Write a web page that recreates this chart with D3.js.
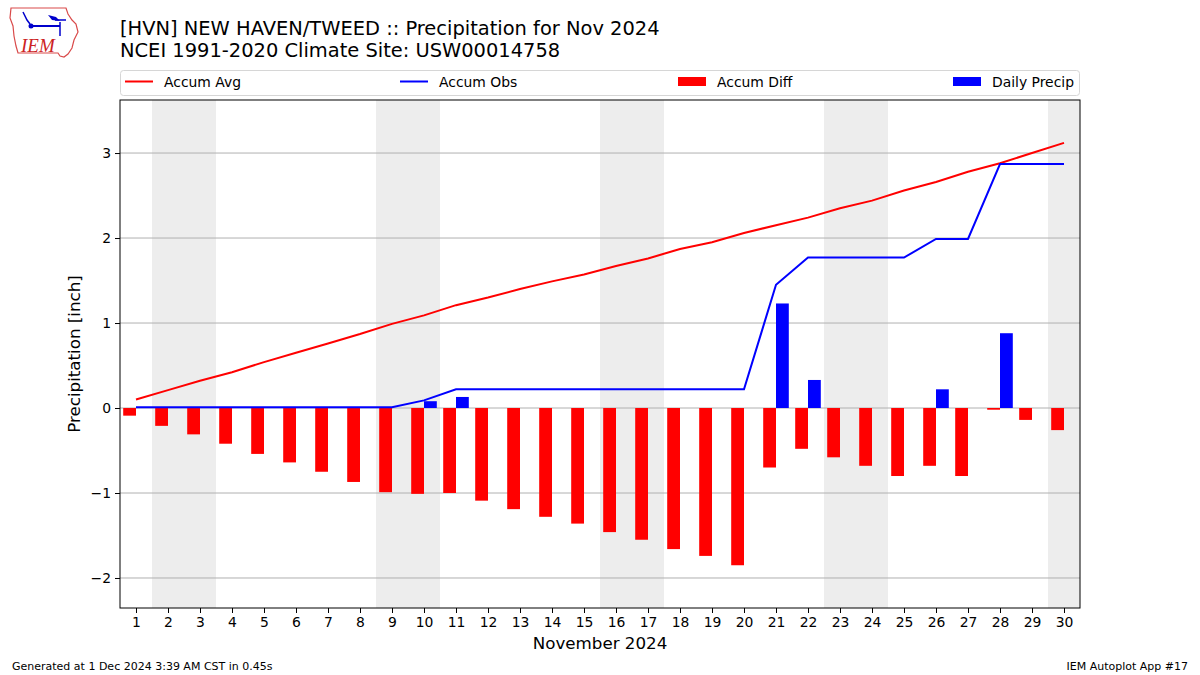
<!DOCTYPE html>
<html><head><meta charset="utf-8">
<script src="https://cdn.jsdelivr.net/npm/d3@7"></script>
<style>body{margin:0;background:#fff;}svg{display:block;font-family:"DejaVu Sans",sans-serif;}</style>
</head><body><svg id="c" width="1200" height="675"></svg>
<script>
const days = d3.range(1, 31);
const accumAvg = [0.10,0.21,0.32,0.42,0.54,0.65,0.76,0.87,0.99,1.09,1.21,1.30,1.40,1.49,1.57,1.67,1.76,1.87,1.95,2.06,2.15,2.24,2.35,2.44,2.56,2.66,2.78,2.88,3.00,3.12];
const accumObs = [0.01,0.01,0.01,0.01,0.01,0.01,0.01,0.01,0.01,0.09,0.22,0.22,0.22,0.22,0.22,0.22,0.22,0.22,0.22,0.22,1.45,1.77,1.77,1.77,1.77,1.99,1.99,2.87,2.87,2.87];
const accumDiff = [-0.09,-0.21,-0.31,-0.42,-0.54,-0.64,-0.75,-0.87,-0.99,-1.01,-1.00,-1.09,-1.19,-1.28,-1.36,-1.46,-1.55,-1.66,-1.74,-1.85,-0.70,-0.48,-0.58,-0.68,-0.80,-0.68,-0.80,-0.02,-0.14,-0.26];
const dailyPrecip = [0,0,0,0,0,0,0,0,0,0.08,0.13,0,0,0,0,0,0,0,0,0,1.23,0.33,0,0,0,0.22,0,0.88,0,0];
const weekendStarts = [2, 9, 16, 23, 30];
const weekendEnds = [3, 10, 17, 24, 30];
const yTicks = [-2, -1, 0, 1, 2, 3];
const legendItems = [
  {label:"Accum Avg", type:"line", color:"red"},
  {label:"Accum Obs", type:"line", color:"blue"},
  {label:"Accum Diff", type:"bar", color:"red"},
  {label:"Daily Precip", type:"bar", color:"blue"}
];

const svg = d3.select("#c");
const L = 120, R = 1080, T = 100, B = 608;
const x = d3.scaleLinear().domain([0.5, 30.5]).range([L, R]);
const y = d3.scaleLinear().domain([-2.353, 3.624]).range([B, T]);
const bw = x(0.4) - x(0);

// weekend shading
const g = svg.append("g");
weekendStarts.forEach((s, i) => {
  const e = weekendEnds[i];
  const x0 = x(s - 0.5), x1 = Math.min(x(e + 0.5), R);
  g.append("rect").attr("x", x0).attr("y", T).attr("width", x1 - x0).attr("height", B - T).attr("fill", "#ededed");
});

// grid
svg.append("g").selectAll("line").data(yTicks).join("line")
  .attr("x1", L).attr("x2", R).attr("y1", d => y(d)).attr("y2", d => y(d))
  .attr("stroke", "#b0b0b0").attr("stroke-width", 1);

// bars
svg.append("g").selectAll("rect").data(days).join("rect")
  .attr("x", d => x(d) - bw).attr("width", bw)
  .attr("y", (d, i) => y(Math.max(0, accumDiff[i])))
  .attr("height", (d, i) => Math.abs(y(accumDiff[i]) - y(0)))
  .attr("fill", "red");
svg.append("g").selectAll("rect").data(days.filter((d, i) => dailyPrecip[i] > 0)).join("rect")
  .attr("x", d => x(d)).attr("width", bw)
  .attr("y", d => y(dailyPrecip[d - 1]))
  .attr("height", d => y(0) - y(dailyPrecip[d - 1]))
  .attr("fill", "blue");

// lines
const line = arr => d3.line().x((d) => x(d)).y((d, i) => y(arr[i]))(days);
svg.append("path").attr("d", line(accumAvg)).attr("fill", "none").attr("stroke", "red").attr("stroke-width", 2);
svg.append("path").attr("d", line(accumObs)).attr("fill", "none").attr("stroke", "blue").attr("stroke-width", 2);

// axes
const yAxis = d3.axisLeft(y).tickValues(yTicks).tickSize(5).tickPadding(4).tickFormat(d => d < 0 ? "\u2212" + Math.abs(d) : d);
const xAxis = d3.axisBottom(x).tickValues(days).tickSize(5).tickPadding(4);
const ya = svg.append("g").attr("transform", `translate(${L},0)`).call(yAxis);
const xa = svg.append("g").attr("transform", `translate(0,${B})`).call(xAxis);
[ya, xa].forEach(a => {
  a.select(".domain").remove();
  a.selectAll("text").attr("font-size", 13.9).attr("font-family", "DejaVu Sans").attr("fill", "#000");
  a.selectAll("line").attr("stroke", "#000");
});
svg.append("rect").attr("x", L).attr("y", T).attr("width", R - L).attr("height", B - T)
  .attr("fill", "none").attr("stroke", "#000").attr("stroke-width", 1);

// labels
svg.append("text").attr("x", (L + R) / 2).attr("y", 649).attr("text-anchor", "middle").attr("font-size", 16.7).text("November 2024");
svg.append("text").attr("transform", `translate(80,${(T + B) / 2}) rotate(-90)`).attr("text-anchor", "middle").attr("font-size", 16.7).text("Precipitation [inch]");

// title
svg.append("text").attr("x", 120).attr("y", 35).attr("font-size", 19.45).text("[HVN] NEW HAVEN/TWEED :: Precipitation for Nov 2024");
svg.append("text").attr("x", 120).attr("y", 57).attr("font-size", 19.45).text("NCEI 1991-2020 Climate Site: USW00014758");

// legend
const lg = svg.append("g");
lg.append("rect").attr("x", 120.5).attr("y", 70.5).attr("width", 959).attr("height", 25).attr("rx", 3)
  .attr("fill", "#fff").attr("stroke", "#d6d6d6");
const lgX = [125, 400, 678, 953];
legendItems.forEach((it, i) => {
  const lx = lgX[i];
  if (it.type === "line") {
    lg.append("line").attr("x1", lx).attr("x2", lx + 28).attr("y1", 81.5).attr("y2", 81.5).attr("stroke", it.color).attr("stroke-width", 2);
  } else {
    lg.append("rect").attr("x", lx).attr("y", 77).attr("width", 28).attr("height", 9).attr("fill", it.color);
  }
  lg.append("text").attr("x", lx + 39).attr("y", 86.5).attr("font-size", 13.9).text(it.label);
});

// footer
svg.append("text").attr("x", 12).attr("y", 670).attr("font-size", 11).text("Generated at 1 Dec 2024 3:39 AM CST in 0.45s");
svg.append("text").attr("x", 1188).attr("y", 670).attr("text-anchor", "end").attr("font-size", 11).text("IEM Autoplot App #17");

// logo
const logo = svg.append("g");
logo.append("path").attr("d", "M11,8 L66,8 L68,14 L72,20 L76,24 L78,32 L74,40 L72,48 L68,54 L64,57 L60,56 L58,53 L18,53 L16,46 L14,36 L13,26 L10,18 Z")
  .attr("fill", "none").attr("stroke", "#d94a4a").attr("stroke-width", 1.2);
logo.append("line").attr("x1", 31).attr("y1", 26).attr("x2", 60).attr("y2", 26).attr("stroke", "#0000cc").attr("stroke-width", 2);
logo.append("circle").attr("cx", 31).attr("cy", 26).attr("r", 2.5).attr("fill", "#0000cc");
logo.append("path").attr("d", "M23,12 L27,20 L30,24").attr("fill", "none").attr("stroke", "#0000cc").attr("stroke-width", 1.5);
logo.append("path").attr("d", "M48,15 L56,17 L60,21 L52,20 Z").attr("fill", "#0000cc");
logo.append("line").attr("x1", 60).attr("y1", 22).attr("x2", 60).attr("y2", 36).attr("stroke", "#0000cc").attr("stroke-width", 1.5);
logo.append("line").attr("x1", 55).attr("y1", 20).attr("x2", 66).attr("y2", 20).attr("stroke", "#0000cc").attr("stroke-width", 1.5);
logo.append("text").attr("x", 21).attr("y", 52).attr("font-family", "Liberation Serif").attr("font-style", "italic")
  .attr("font-size", 19).attr("fill", "#cc2222").text("IEM");
</script></body></html>
